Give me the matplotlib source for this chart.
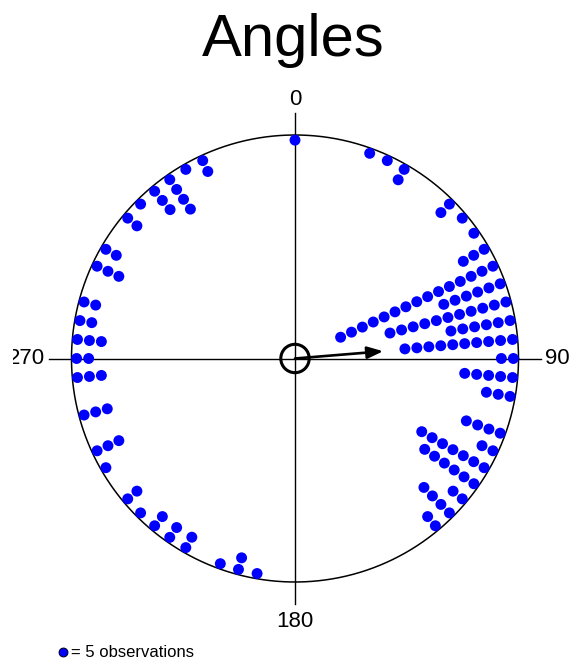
import numpy as np
import matplotlib
matplotlib.use("Agg")
import matplotlib.pyplot as plt

plt.rcParams['font.family'] = ['Liberation Sans', 'DejaVu Sans']

# stacked dot counts per 5-degree bin (bearing, clockwise from north); one dot = 5 obs
bin_angles = [0, 20, 25, 30, 45, 50, 55, 60, 65, 70, 75, 80, 85, 90,
              95, 100, 110, 115, 120, 125, 130, 135, 140,
              190, 195, 200, 210, 215, 220, 225, 230, 240, 245, 255,
              265, 270, 275, 280, 285, 295, 300, 310, 315, 320, 325, 330, 335]
dot_counts = [1, 1, 1, 2, 2, 1, 1, 3, 15, 6, 11, 6, 10, 2,
              5, 3, 4, 2, 7, 6, 2, 4, 2,
              1, 2, 1, 2, 2, 2, 1, 2, 1, 3, 3,
              3, 2, 3, 2, 2, 3, 2, 2, 1, 3, 4, 1, 2]
obs_per_dot = 5

# mean resultant
mean_dir = 85.3
mean_len = 0.396

axis_labels = ["0", "90", "180", "270"]

W, H = 573, 661
CX, CY, RPX = 295, 358.5, 223.5   # centre and radius in pixels
CLIP_L = 12.7

fig = plt.figure(figsize=(W / 100, H / 100), dpi=100)
ax = fig.add_axes([CLIP_L / W, 0, 1 - CLIP_L / W, 1])
ax.set_xlim((CLIP_L - CX) / RPX, (W - CX) / RPX)
ax.set_ylim(-(H - CY) / RPX, CY / RPX)
ax.axis('off')

# outer circle and axes
t = np.linspace(0, 2 * np.pi, 400)
ax.plot(np.cos(t), np.sin(t), color='black', lw=1.1)
ax.plot([-1.1, 1.1], [0, 0], color='black', lw=1.0)
ax.plot([0, 0], [-1.1, 1.1], color='black', lw=1.0)

# stacked points
r0, step = 0.977, 0.0537
xs, ys = [], []
for ang, n in zip(bin_angles, dot_counts):
    th = np.radians(ang)
    for k in range(n):
        r = r0 - step * k
        xs.append(r * np.sin(th))
        ys.append(r * np.cos(th))
ax.scatter(xs, ys, s=62, color='#0000FF', edgecolors='none', zorder=3)

# centre marker and mean direction arrow
ax.add_patch(plt.Circle((0, 0), 0.0635, fill=False, lw=2.2, color='black', zorder=4))
th = np.radians(mean_dir)
ax.annotate('', xy=(mean_len * np.sin(th), mean_len * np.cos(th)), xytext=(0, 0),
            arrowprops=dict(arrowstyle='-|>,head_length=0.95,head_width=0.36',
                            lw=1.9, color='black', mutation_scale=10,
                            shrinkA=0, shrinkB=0), zorder=5)

# axis labels
ax.text(0, 1.157, axis_labels[0], ha='center', va='center', fontsize=16)
ax.text(1.119, 0, axis_labels[1], ha='left', va='center', fontsize=16)
ax.text(0, -1.178, axis_labels[2], ha='center', va='center', fontsize=16)
ax.text(-1.119, 0, axis_labels[3], ha='right', va='center', fontsize=16, clip_on=True)

fig.text(293 / W, 1 - 41 / H, "Angles", ha='center', va='center', fontsize=43)

# legend
fig.lines.append(plt.Line2D([63.3 / W], [1 - 652 / H], marker='o', markersize=6.3,
                            markerfacecolor='#0000FF', markeredgecolor='#000033',
                            markeredgewidth=0.8, transform=fig.transFigure))
fig.text(71 / W, 1 - 652.5 / H, "= %d observations" % obs_per_dot, ha='left', va='center',
         fontsize=12)

fig.savefig("out.png", dpi=100)
